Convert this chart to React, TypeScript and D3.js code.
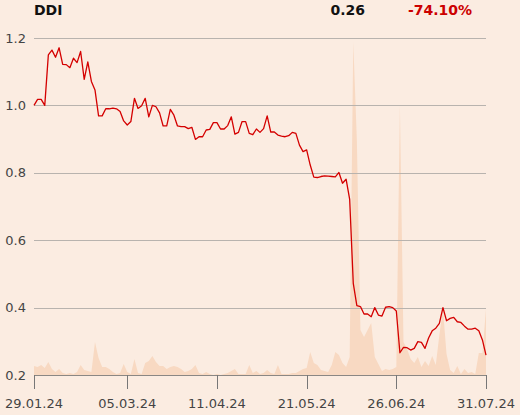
import React, { useEffect, useRef } from "react";
import * as d3 from "d3";

const title = "DDI";
const lastValue = "0.26";
const changeText = "-74.10%";

const prices = [
  1.0, 1.018, 1.018, 1.0, 1.15, 1.164, 1.143, 1.171, 1.122, 1.121,
  1.112, 1.14, 1.127, 1.16, 1.077, 1.129, 1.071, 1.046, 0.969, 0.969,
  0.99, 0.99, 0.992, 0.99, 0.982, 0.954, 0.942, 0.952, 1.021, 0.991,
  0.999, 1.021, 0.966, 1.0, 0.996, 0.978, 0.939, 0.939, 0.988, 0.971,
  0.939, 0.937, 0.937, 0.931, 0.935, 0.899, 0.907, 0.907, 0.927, 0.929,
  0.949, 0.949, 0.93, 0.93, 0.94, 0.966, 0.915, 0.92, 0.952, 0.952,
  0.917, 0.913, 0.93, 0.92, 0.931, 0.969, 0.921, 0.921, 0.912, 0.909,
  0.907, 0.91, 0.92, 0.917, 0.882, 0.863, 0.868, 0.823, 0.787, 0.786,
  0.789, 0.791, 0.79, 0.789, 0.788, 0.801, 0.769, 0.781, 0.721, 0.472,
  0.406, 0.403, 0.381, 0.381, 0.373, 0.4, 0.378, 0.375, 0.401, 0.403,
  0.4, 0.39, 0.266, 0.282, 0.281, 0.274, 0.279, 0.299, 0.297, 0.279,
  0.31, 0.331, 0.339, 0.353, 0.4, 0.361, 0.368, 0.371, 0.358, 0.356,
  0.345, 0.336, 0.336, 0.339, 0.331, 0.304, 0.259,
];

const volumes = [
  9, 8, 10, 7, 13, 6, 3, 6, 2, 1,
  2, 1, 3, 10, 5, 4, 3, 33, 17, 8,
  8, 6, 3, 1, 2, 11, 3, 1, 16, 2,
  1, 12, 14, 19, 13, 9, 9, 6, 8, 9,
  8, 6, 3, 4, 6, 10, 2, 1, 3, 1,
  0, 1, 0, 1, 2, 4, 6, 1, 1, 1,
  10, 2, 4, 1, 2, 5, 2, 1, 10, 1,
  1, 1, 2, 2, 4, 6, 7, 23, 12, 10,
  5, 4, 3, 10, 23, 20, 12, 8, 18, 333,
  235, 45, 38, 45, 52, 18, 11, 4, 6, 5,
  6, 8, 270, 33, 26, 16, 12, 18, 8, 14,
  9, 19, 10, 40, 66, 21, 5, 2, 9, 1,
  6, 2, 3, 1, 22, 22, 66,
];

const xTickIndex = [0, 26, 51, 76, 101, 126];
const xTickLabels = ["29.01.24", "05.03.24", "11.04.24", "21.05.24", "26.06.24", "31.07.24"];
const yTicks = [0.2, 0.4, 0.6, 0.8, 1.0, 1.2];

const W = 520;
const H = 415;
const left = 34;
const right = 486;
const top = 38;
const bottom = 375;
const font = "DejaVu Sans, sans-serif";

export default function App() {
  const ref = useRef<SVGSVGElement | null>(null);

  useEffect(() => {
    document.body.style.margin = "0";
    const svg = d3.select(ref.current);
    svg.selectAll("*").remove();

    const x = d3.scaleLinear().domain([0, prices.length - 1]).range([left, right]);
    const y = d3.scaleLinear().domain([0.2, 1.2]).range([bottom, top]);
    const yv = d3.scaleLinear().domain([0, 333]).range([bottom, bottom - 333]);

    svg.append("rect").attr("width", W).attr("height", H).attr("fill", "#fbece1");

    // volume area
    const area = d3
      .area<number>()
      .x((_, i) => x(i))
      .y0(bottom)
      .y1((d) => yv(d));
    svg.append("path").datum(volumes).attr("d", area).attr("fill", "#f8d9c2");

    // gridlines
    svg
      .append("g")
      .selectAll("line")
      .data(yTicks)
      .join("line")
      .attr("x1", left)
      .attr("x2", right)
      .attr("y1", (d) => Math.round(y(d)) + 0.5)
      .attr("y2", (d) => Math.round(y(d)) + 0.5)
      .attr("stroke", "#b8b3ae")
      .attr("stroke-width", 1);

    svg
      .append("g")
      .selectAll("text")
      .data(yTicks)
      .join("text")
      .attr("x", 26)
      .attr("y", (d) => y(d))
      .attr("dy", "0.36em")
      .attr("text-anchor", "end")
      .attr("font-family", font)
      .attr("font-size", 13)
      .attr("fill", "#444")
      .text((d) => d3.format(".1f")(d));

    // x axis
    svg
      .append("line")
      .attr("x1", left)
      .attr("x2", right)
      .attr("y1", bottom + 0.5)
      .attr("y2", bottom + 0.5)
      .attr("stroke", "#8a8784");

    const xt = svg.append("g");
    xTickIndex.forEach((idx, k) => {
      const px = Math.round(x(idx)) + 0.5;
      xt.append("line")
        .attr("x1", px)
        .attr("x2", px)
        .attr("y1", bottom)
        .attr("y2", bottom + 14)
        .attr("stroke", "#777");
      xt.append("text")
        .attr("x", x(idx))
        .attr("y", 408)
        .attr("text-anchor", "middle")
        .attr("font-family", font)
        .attr("font-size", 13)
        .attr("fill", "#444")
        .text(xTickLabels[k]);
    });

    // price line
    const line = d3
      .line<number>()
      .x((_, i) => x(i))
      .y((d) => y(d));
    svg
      .append("path")
      .datum(prices)
      .attr("d", line)
      .attr("fill", "none")
      .attr("stroke", "#d40000")
      .attr("stroke-width", 1.3)
      .attr("stroke-linejoin", "round");

    // header
    svg
      .append("text")
      .attr("x", 34)
      .attr("y", 15)
      .attr("font-family", font)
      .attr("font-size", 14)
      .attr("font-weight", "bold")
      .attr("fill", "#111")
      .text(title);
    svg
      .append("text")
      .attr("x", 365)
      .attr("y", 15)
      .attr("text-anchor", "end")
      .attr("font-family", font)
      .attr("font-size", 14)
      .attr("font-weight", "bold")
      .attr("fill", "#111")
      .text(lastValue);
    svg
      .append("text")
      .attr("x", 472)
      .attr("y", 15)
      .attr("text-anchor", "end")
      .attr("font-family", font)
      .attr("font-size", 14)
      .attr("font-weight", "bold")
      .attr("fill", "#cc0000")
      .text(changeText);
  }, []);

  return (
    <div style={{ position: "absolute", left: 0, top: 0 }}>
      <svg ref={ref} width={W} height={H} style={{ display: "block" }} />
    </div>
  );
}
